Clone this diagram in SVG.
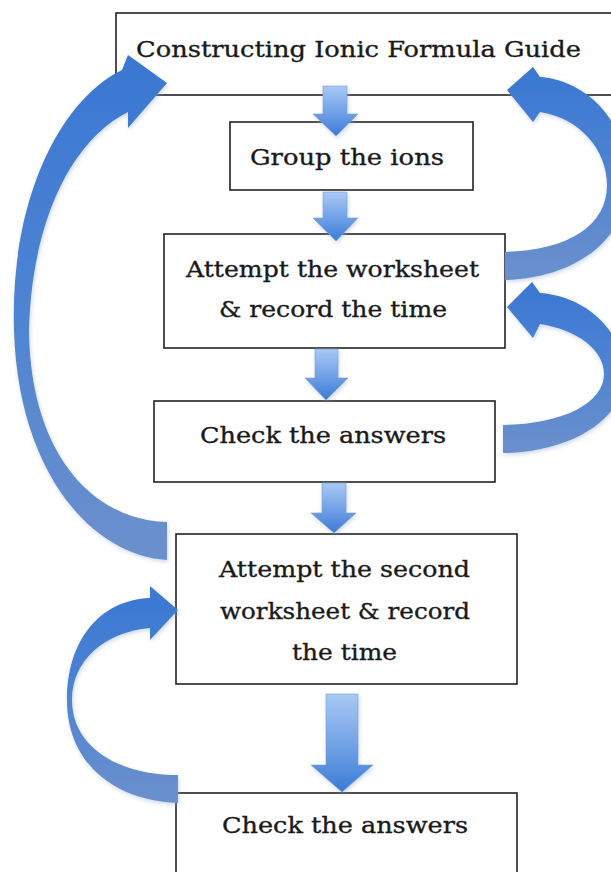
<svg xmlns="http://www.w3.org/2000/svg" width="611" height="872" viewBox="0 0 611 872">
<defs>
<linearGradient id="gDown" x1="0" y1="0" x2="0" y2="1">
<stop offset="0" stop-color="#a9c9f4"/>
<stop offset="0.55" stop-color="#6e9fe6"/>
<stop offset="1" stop-color="#3c7bd6"/>
</linearGradient>
<linearGradient id="gCurve" x1="0" y1="0" x2="0" y2="1">
<stop offset="0" stop-color="#3a77d3"/>
<stop offset="0.5" stop-color="#4e84d2"/>
<stop offset="1" stop-color="#6c90cd"/>
</linearGradient>
<filter id="soft" x="-20%" y="-20%" width="140%" height="140%">
<feDropShadow dx="1" dy="2" stdDeviation="2" flood-color="#8fa9d6" flood-opacity="0.45"/>
</filter>
</defs>
<style>
.box{fill:#ffffff;stroke:#222222;stroke-width:1.6}
.lbl{font-family:"DejaVu Serif","Liberation Serif",serif;font-size:23px;fill:#1a1a1a;stroke:#1a1a1a;stroke-width:0.35}
.down{fill:url(#gDown);stroke:#7f9fcf;stroke-width:0.6}
.curve{fill:url(#gCurve)}
</style>
<rect width="611" height="872" fill="#ffffff"/>

<g id="node-guide">
<rect class="box" x="116" y="13" width="520" height="82"/>
<text class="lbl" x="136" y="57" textLength="445" lengthAdjust="spacingAndGlyphs">Constructing Ionic Formula Guide</text>
</g>
<g id="node-group">
<rect class="box" x="230" y="122" width="243" height="68"/>
<text class="lbl" x="250" y="165" textLength="194" lengthAdjust="spacingAndGlyphs">Group the ions</text>
</g>
<g id="node-attempt1">
<rect class="box" x="164" y="234" width="341" height="114"/>
<text class="lbl" x="186" y="277" textLength="293" lengthAdjust="spacingAndGlyphs">Attempt the worksheet</text>
<text class="lbl" x="219" y="317" textLength="228" lengthAdjust="spacingAndGlyphs">&amp; record the time</text>
</g>
<g id="node-check1">
<rect class="box" x="154" y="401" width="341" height="81"/>
<text class="lbl" x="200" y="443" textLength="246" lengthAdjust="spacingAndGlyphs">Check the answers</text>
</g>
<g id="node-attempt2">
<rect class="box" x="176" y="534" width="341" height="150"/>
<text class="lbl" x="219" y="577" textLength="251" lengthAdjust="spacingAndGlyphs">Attempt the second</text>
<text class="lbl" x="220" y="619" textLength="250" lengthAdjust="spacingAndGlyphs">worksheet &amp; record</text>
<text class="lbl" x="292" y="660" textLength="105" lengthAdjust="spacingAndGlyphs">the time</text>
</g>
<g id="node-check2">
<rect class="box" x="176" y="793" width="341" height="90"/>
<text class="lbl" x="222" y="833" textLength="246" lengthAdjust="spacingAndGlyphs">Check the answers</text>
</g>

<g id="connectors" filter="url(#soft)">
<polygon class="down" points="323,86 347,86 347,114 358,114 336,136 313,114 323,114"/>
<polygon class="down" points="323,192 347,192 347,218 358,218 336,241 313,218 323,218"/>
<polygon class="down" points="315,349 338,349 338,378 348,378 326,400 305,378 315,378"/>
<polygon class="down" points="322,483 346,483 346,513 356,513 334,533 311,513 322,513"/>
<polygon class="down" points="326,694 358,694 358,765 373,765 342,792 311,765 326,765"/>

<path class="curve" d="M505,280 C575,278 628,240 628,180 C628,120 585,80 540,77 L533,67 L507,90 L533,122 L540,112 C580,118 607,150 607,185 C607,225 570,250 505,252 Z"/>
<path class="curve" d="M503,453 C570,452 624,420 624,375 C624,330 585,296 540,293 L532,282 L507,307 L533,338 L540,324 C578,330 604,350 604,374 C604,402 565,424 503,425 Z"/>
<path class="curve" d="M167,560 C90,555 18,470 14,330 C10,200 60,100 122,70 L128,55 L167,83 L128,128 L128,112 C72,140 32,220 29,330 C30,450 90,520 167,522 Z"/>
<path class="curve" d="M178,803 C110,800 67,760 67,700 C67,640 100,600 150,598 L150,586 L178,610 L150,640 L150,628 C105,632 72,660 72,700 C72,745 115,775 178,775 Z"/>
</g>
</svg>
